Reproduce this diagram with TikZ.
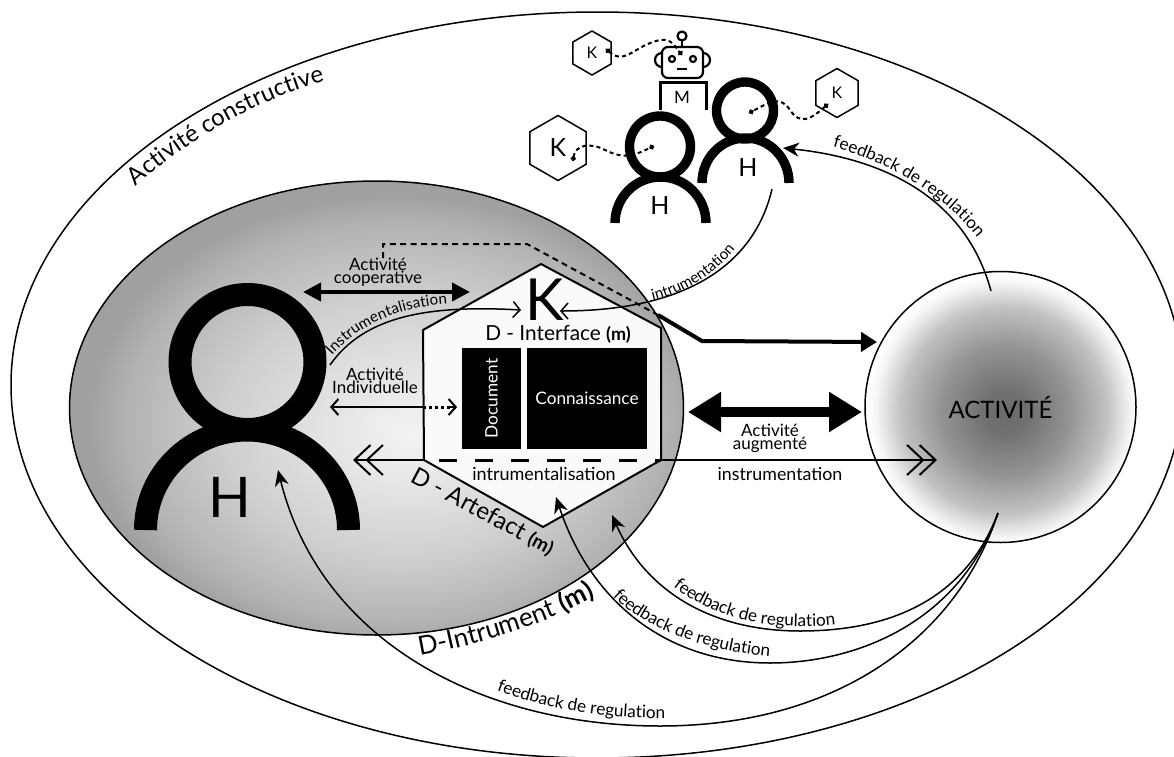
\documentclass[tikz,border=0pt]{standalone}
\usepackage{fontspec}
\setmainfont{Lato}
\usetikzlibrary{arrows.meta,shapes.geometric,decorations.text}
\definecolor{ringgray}{HTML}{9FA0A2}
\pgfdeclareradialshading{instrumentglow}{\pgfpoint{3bp}{-3bp}}{color(0bp)=(white!95!black); color(3bp)=(white!93!black); color(14.5bp)=(white!81!black); color(22bp)=(white!70!black); color(25bp)=(ringgray); color(50bp)=(ringgray)}
\pgfdeclareradialshading{activityglow}{\pgfpoint{1bp}{-1bp}}{color(0bp)=(black!58); color(4bp)=(black!56); color(12bp)=(black!42); color(19bp)=(black!24); color(23.5bp)=(black!4); color(25bp)=(white); color(50bp)=(white)}
\newcommand\curvefont{\fontsize{8.6}{9}\selectfont}
\newcommand\thinfont{\fontsize{7.6}{8}\selectfont}
\tikzset{
  thinline/.style={line width=0.75pt},
  feedback/.style={thinline,-{Stealth[length=8pt,width=7pt,inset=2.5pt]}},
  openhead/.style={thinline,-{Straight Barb[length=3.5pt,width=8pt]}},
  dotlink/.style={line width=1pt,dash pattern=on 2pt off 1.6pt,{Circle[length=2.5pt]}-{Circle[length=2.5pt]}},
  kcell/.style={draw,thinline,regular polygon,regular polygon sides=6,regular polygon rotate=30,inner sep=0pt},
  alongtext/.style 2 args={decoration={text along path,text={#2},raise=#1,text align=center},decorate},
}
\newcommand\PersonIcon[9]{
  \draw[line width=#9] (#2,#3) circle [radius=#4];
  \draw[line width=#9] (#5-#7,#6) arc [start angle=180,end angle=360,x radius=#7,y radius=#8];
  \coordinate (#1) at (#5,#6);
}
\begin{document}
\begin{tikzpicture}[x=0.5pt,y=-0.5pt,font=\fontsize{8}{8}\selectfont]
\useasboundingbox (0,0) rectangle (1174,756);
\fill[white] (0,0) rectangle (1174,756);

\node[draw,thinline,ellipse,minimum width=586pt,minimum height=373pt,inner sep=0pt] (constructive) at (597,385) {};
\node[draw,thinline,ellipse,minimum width=307pt,minimum height=227pt,inner sep=0pt,shading=instrumentglow] (instrument) at (376.5,408) {};
\node[draw,thinline,circle,minimum size=135.5pt,inner sep=0pt,shading=activityglow,font=\fontsize{12}{12}\selectfont] (activity) at (1000.5,407) {\raisebox{-4pt}{ACTIVITÉ}};

% hexagone
\draw[line width=1pt,fill=white!98!black] (541,264) coordinate (hextop) -- (661,328) -- (661,460) coordinate (hexright)
  -- (543,527) coordinate (hexbottom) -- (424,460) coordinate (hexleft) -- (423,330) -- cycle;
\node[fill=black,text=white,minimum width=29.5pt,minimum height=50.5pt,inner sep=0pt] (document) at (491.5,398.5) {\rotatebox{90}{\fontsize{8.6}{10}\selectfont Document}};
\node[fill=black,text=white,minimum width=60pt,minimum height=50.5pt,inner sep=0pt,font=\fontsize{8.6}{10}\selectfont] (connaissance) at (587,398.5) {\raisebox{-1pt}{Connaissance}};
\node[inner sep=0pt,font=\fontsize{29}{30}\selectfont] (kmain) at (545,300) {K};
\node[inner sep=0pt,font=\fontsize{10.4}{11}\selectfont] (interface) at (558,334) {D - Interface \textbf{\fontsize{9}{9}\selectfont(m)}};

% personnes
\PersonIcon{hbig}{247.5}{362}{67.5}{247}{530}{101.5}{100}{11.5pt}
\node[inner sep=0pt,font=\fontsize{28}{28}\selectfont] (hbiglabel) at (230,497) {H};
\PersonIcon{hfront}{660}{146.5}{30.5}{660.5}{223}{45.5}{46}{4.7pt}
\node[inner sep=0pt,font=\fontsize{12.5}{13}\selectfont] (hfrontlabel) at (660,206) {H};
\PersonIcon{hback}{745}{110.5}{28.5}{745.5}{183}{43.5}{45}{4.7pt}
\node[inner sep=0pt,font=\fontsize{12.5}{13}\selectfont] (hbacklabel) at (748,168) {H};

% robot
\draw[line width=1.1pt,rounded corners=3pt] (662,47) rectangle (703,78);
\draw[line width=1.1pt] (662,53) arc [start angle=270,end angle=90,radius=7];
\draw[line width=1.1pt] (703,53) arc [start angle=270,end angle=450,radius=7];
\draw[line width=1.1pt] (682,36) circle [radius=4.5];
\draw[line width=1.1pt] (682,40.5) -- (682,47);
\draw[line width=1.1pt] (672,59) circle [radius=3];
\draw[line width=1.1pt] (693,59) circle [radius=3];
\draw[line width=1.1pt] (677,69) -- (687,69);
\coordinate (robot) at (682,55);
\draw[line width=1.5pt] (660,110) -- (660,82) -- (706,82) -- (706,110);
\node[inner sep=0pt,font=\fontsize{8.5}{9}\selectfont] (machine) at (682,97) {M};

% K
\node[kcell,minimum size=22pt] (kone) at (592,53) {K};
\node[kcell,minimum size=24.5pt] (ktwo) at (837,93) {K};
\node[kcell,minimum size=32.5pt,font=\fontsize{12.5}{13}\selectfont] (kthree) at (558,148) {K};
\coordinate (konein) at (606,49);
\coordinate (ktwoin) at (828,104);
\coordinate (kthreein) at (573,161);
\coordinate (hfronthead) at (654,146);
\coordinate (hbackhead) at (749,113);
\draw[dotlink] (konein) .. controls (625,66) and (635,45) .. (660,40) .. controls (672,38) and (676,48) .. (robot);
\draw[dotlink] (ktwoin) .. controls (810,120) and (800,125) .. (790,110) .. controls (780,95) and (770,102) .. (hbackhead);
\draw[dotlink] (kthreein) .. controls (575,145) and (590,142) .. (605,150) .. controls (625,160) and (635,155) .. (hfronthead);

% feedback et instrumentation
\coordinate (fbstart) at (998,513);
\coordinate (fbtop) at (991,291);
\coordinate (fbtip) at (783,148);
\coordinate (hbackfoot) at (772,189);
\coordinate (kleft) at (521,310);
\coordinate (kright) at (560,311);
\coordinate (instrstart) at (330,365);
\draw[feedback] (fbtop) .. controls (965,195) and (880,158) .. (fbtip);
\draw[feedback] (fbstart) .. controls (965,600) and (890,631) .. (800,631) .. controls (710,631) and (645,590) .. (612,515);
\draw[feedback] (fbstart) .. controls (960,620) and (860,663) .. (770,663) .. controls (665,663) and (590,600) .. (556,497);
\draw[feedback] (fbstart) .. controls (958,635) and (840,726) .. (660,726) .. controls (480,726) and (320,640) .. (278,470);
\draw[openhead] (hbackfoot) .. controls (755,262) and (690,311) .. (kright);
\draw[openhead] (instrstart) .. controls (365,315) and (430,305) .. (kleft);

\path[alongtext={1pt}{|\curvefont|feedback de regulation}] (825,147) .. controls (880,160) and (945,195) .. (980,245);
\path[alongtext={1pt}{|\curvefont|feedback de regulation}] (660,577) .. controls (700,618) and (770,637) .. (852,625);
\path[alongtext={1pt}{|\curvefont|feedback de regulation}] (601,586) .. controls (630,625) and (700,655) .. (785,660);
\path[alongtext={1pt}{|\curvefont|feedback de regulation}] (484,688) .. controls (540,710) and (600,722) .. (678,720);
\path[alongtext={1pt}{|\thinfont|intrumentation}] (650,303) .. controls (685,295) and (715,278) .. (739,248);
\path[alongtext={1pt}{|\thinfont|Instrumentalisation}] (329,362) .. controls (360,325) and (400,308) .. (454,306);
\path[alongtext={0pt}{|\fontsize{12}{12}\selectfont|Activité constructive}] (132,190) .. controls (175,150) and (250,100) .. (330,80);
\path[alongtext={0pt}{|\fontsize{13}{13}\selectfont|D-Intrument |\fontsize{13}{13}\selectfont\bfseries|(m)}] (417,656) .. controls (480,645) and (545,625) .. (598,595);

\node[rotate=-28,inner sep=0pt,font=\fontsize{12}{12}\selectfont] (artefact) at (483,512) {D - Artefact \textbf{\fontsize{9.5}{10}\selectfont(m)}};

% activites
\draw[line width=2pt,{Stealth[length=9pt,width=9pt,inset=0pt]}-{Stealth[length=9pt,width=9pt,inset=0pt]}] (303,292) coordinate (coopleft) -- (470,292) coordinate (coopright);
\node[inner sep=0pt,align=center,font=\fontsize{8.5}{6.5}\selectfont] (cooptext) at (378,272) {Activité\\cooperative};
\node[inner sep=0pt,align=center,font=\fontsize{8.5}{6.5}\selectfont] (indivtext) at (375,381) {Activité\\Individuelle};
\coordinate (indivleft) at (330,407);
\coordinate (indivmid) at (423,407);
\coordinate (indivright) at (457,407);
\draw[line width=1pt,{Straight Barb[length=3.5pt,width=8pt]}-] (indivleft) -- (indivmid);
\draw[line width=1.5pt,dash pattern=on 1.5pt off 1.5pt] (indivmid) -- (indivright);
\draw[line width=1pt,-{Straight Barb[length=3.5pt,width=8pt]}] (450,407) -- (indivright);

% ligne du bas
\coordinate (leftend) at (353,460);
\coordinate (rightend) at (937,460);
\draw[line width=1pt,-{Straight Barb[length=8pt,width=15pt,sep=-3pt] Straight Barb[length=8pt,width=15pt]}] (hexleft) -- (leftend);
\draw[line width=1pt,-{Straight Barb[length=8pt,width=15pt,sep=-3pt] Straight Barb[length=8pt,width=15pt]}] (hexright) -- (rightend);
\draw[line width=1.5pt,dash pattern=on 9pt off 9pt] (439,460) -- (hexright);
\node[inner sep=0pt,font=\fontsize{9}{9}\selectfont] (intrutext) at (544,474) {intrumentalisation};
\node[inner sep=0pt,font=\fontsize{8.9}{9}\selectfont] (instrutext) at (780,474) {instrumentation};

\draw[line width=5pt,{Triangle[length=16.5pt,width=19pt]}-{Triangle[length=16.5pt,width=19pt]}] (688,412) coordinate (augleft) -- (862,412) coordinate (augright);
\node[inner sep=0pt,align=center,font=\fontsize{8.5}{6.5}\selectfont] (augtext) at (770,438) {Activité\\augmenté};

% interface vers activite
\coordinate (dashstart) at (383,258);
\coordinate (dashcorner) at (383,244);
\coordinate (dashtop) at (527,244);
\coordinate (bend) at (658,315);
\coordinate (elbow) at (702,341);
\coordinate (activityarrow) at (877,342);
\draw[line width=1pt,dash pattern=on 3pt off 2.2pt] (dashstart) -- (dashcorner) -- (dashtop) -- (bend);
\draw[line width=2pt,-{Triangle[length=8pt,width=9.5pt]}] (bend) -- (elbow) -- (activityarrow);
\end{tikzpicture}
\end{document}
